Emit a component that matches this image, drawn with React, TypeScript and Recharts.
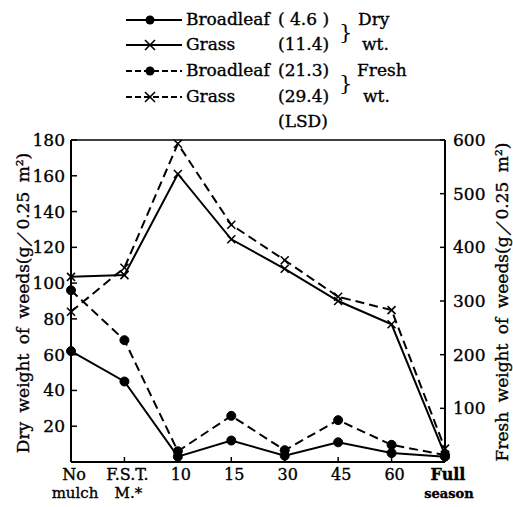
import { Legend, Line, LineChart, ReferenceLine, XAxis, YAxis } from "recharts";

const categories = ["No mulch", "F.S.T. M.*", "10", "15", "30", "45", "60", "Full season"];
const categoryLines = [
  ["No", "mulch"],
  ["F.S.T.", "M.*"],
  ["10", ""],
  ["15", ""],
  ["30", ""],
  ["45", ""],
  ["60", ""],
  ["Full", "season"],
];

// dry weight, g/0.25 m2 (left axis)
const dryBroadleaf = [62, 45, 3, 12, 3.5, 11, 5, 3];
const dryGrass = [103.5, 104.5, 161, 124.5, 108, 90, 77, 4];
// fresh weight, g/0.25 m2 (right axis)
const freshBroadleaf = [320, 227, 20, 86, 22, 78, 32, 13];
const freshGrass = [280, 362, 593, 442, 376, 308, 283, 25];

const legendNames = ["Broadleaf", "Grass", "Broadleaf", "Grass"];
const lsdValues = ["( 4.6 )", "(11.4)", "(21.3)", "(29.4)"];

const leftTicks = [20, 40, 60, 80, 100, 120, 140, 160, 180];
const rightTicks = [100, 200, 300, 400, 500, 600];

const data = categories.map((category, i) => ({
  category,
  dryBroadleaf: dryBroadleaf[i],
  dryGrass: dryGrass[i],
  freshBroadleaf: freshBroadleaf[i],
  freshGrass: freshGrass[i],
}));

const FONT = "DejaVu Serif, Liberation Serif, serif";
const DASH = "9 5";
// scanned print looks a bit heavy, thicken the glyphs slightly
const inkStyle = { stroke: "#000", strokeWidth: 0.35 };

function CrossMark({ cx, cy, size = 4 }: { cx?: number; cy?: number; size?: number }) {
  if (cx == null || cy == null) return null;
  return (
    <g>
      <line x1={cx - size} y1={cy - size} x2={cx + size} y2={cy + size} stroke="#000" strokeWidth={1.6} />
      <line x1={cx - size} y1={cy + size} x2={cx + size} y2={cy - size} stroke="#000" strokeWidth={1.6} />
    </g>
  );
}

function CategoryTick(props: any) {
  const { x, y, payload } = props;
  const idx = categories.indexOf(payload.value);
  const [top, bottom] = categoryLines[idx] ?? [payload.value, ""];
  const isLast = idx === categories.length - 1;
  return (
    <g>
      <text x={x + 3} y={y + 23} textAnchor="middle" fontSize={16} fontFamily={FONT} fontWeight={isLast ? "bold" : "normal"} fill="#000" {...inkStyle}>
        {top}
      </text>
      {bottom && (
        <text x={x + 4} y={y + 41} textAnchor="middle" fontSize={isLast ? 13 : 15} fontFamily={FONT} fontWeight={isLast ? "bold" : "normal"} fill="#000" {...inkStyle}>
          {bottom}
        </text>
      )}
    </g>
  );
}

function LegendBox() {
  const rows = [25, 50, 76, 102];
  return (
    <svg width={513} height={135} style={{ display: "block" }}>
      {legendNames.map((name, i) => {
        const y = rows[i] - 5;
        const dashed = i >= 2;
        const cross = i % 2 === 1;
        return (
          <g key={i}>
            <line x1={126} y1={y} x2={182} y2={y} stroke="#000" strokeWidth={1.8} strokeDasharray={dashed ? "6 3" : undefined} />
            {cross ? <CrossMark cx={150} cy={y} size={5} /> : <circle cx={150} cy={y} r={4.5} fill="#000" />}
            <text x={186} y={rows[i]} fontSize={17} fontFamily={FONT} fill="#000" {...inkStyle}>
              {name}
            </text>
            <text x={278} y={rows[i]} fontSize={17} fontFamily={FONT} fill="#000" {...inkStyle}>
              {lsdValues[i]}
            </text>
          </g>
        );
      })}
      <text x={278} y={127} fontSize={17} fontFamily={FONT} fill="#000" {...inkStyle}>(LSD)</text>
      <text x={339} y={39} fontSize={21} fontFamily={FONT} fill="#000">{"}"}</text>
      <text x={339} y={90} fontSize={21} fontFamily={FONT} fill="#000">{"}"}</text>
      <text x={358} y={25} fontSize={17} fontFamily={FONT} fill="#000" {...inkStyle}>Dry</text>
      <text x={362} y={50} fontSize={17} fontFamily={FONT} fill="#000" {...inkStyle}>wt.</text>
      <text x={357} y={76} fontSize={17} fontFamily={FONT} fill="#000" {...inkStyle}>Fresh</text>
      <text x={363} y={102} fontSize={17} fontFamily={FONT} fill="#000" {...inkStyle}>wt.</text>
    </svg>
  );
}

function AxisTitle({ x, y, text }: { x: number; y: number; text: string }) {
  return (
    <text
      x={x}
      y={y}
      transform={`rotate(-90 ${x} ${y})`}
      textAnchor="middle"
      dominantBaseline="central"
      fontSize={17}
      fontFamily={FONT}
      wordSpacing={4}
      fill="#000"
      {...inkStyle}
    >
      {text}
    </text>
  );
}

const tickStyle = { fontSize: 17, fill: "#000", fontFamily: FONT, ...inkStyle };

export default function App() {
  return (
    <div style={{ position: "absolute", left: 0, top: 0, background: "#fff" }}>
      <LineChart width={513} height={507} data={data} margin={{ top: 140, right: 18, left: 21, bottom: 5 }}>
        <XAxis
          dataKey="category"
          interval={0}
          height={40}
          tickSize={-5}
          tickMargin={0}
          tick={<CategoryTick />}
          tickLine={{ stroke: "#000", strokeWidth: 1.5 }}
          axisLine={{ stroke: "#000", strokeWidth: 2 }}
        />
        <YAxis
          yAxisId="dry"
          domain={[0, 180]}
          ticks={leftTicks}
          width={50}
          tickSize={-6}
          tickMargin={12}
          tick={tickStyle}
          tickLine={{ stroke: "#000", strokeWidth: 1.5 }}
          axisLine={{ stroke: "#000", strokeWidth: 2 }}
          label={{ content: () => <AxisTitle x={23} y={303} text="Dry weight of weeds(g／0.25 m²)" /> }}
        />
        <YAxis
          yAxisId="fresh"
          orientation="right"
          domain={[0, 600]}
          ticks={rightTicks}
          width={50}
          tickSize={-5}
          tickMargin={13}
          tick={tickStyle}
          tickLine={{ stroke: "#000", strokeWidth: 1.5 }}
          axisLine={{ stroke: "#000", strokeWidth: 2 }}
          label={{ content: () => <AxisTitle x={502} y={302} text="Fresh weight of weeds(g／0.25 m²)" /> }}
        />
        <ReferenceLine yAxisId="dry" y={180} stroke="#000" strokeWidth={1.5} />
        <Legend
          layout="vertical"
          align="center"
          verticalAlign="middle"
          content={() => <LegendBox />}
          wrapperStyle={{ position: "absolute", left: 0, top: 0, width: 513, height: 135 }}
        />
        <Line
          yAxisId="dry"
          dataKey="dryBroadleaf"
          type="linear"
          stroke="#000"
          strokeWidth={2}
          dot={{ r: 4.5, fill: "#000", stroke: "#000", strokeWidth: 1 }}
          isAnimationActive={false}
        />
        <Line
          yAxisId="dry"
          dataKey="dryGrass"
          type="linear"
          stroke="#000"
          strokeWidth={2}
          dot={(p: any) => <CrossMark key={`dg-${p.index}`} cx={p.cx} cy={p.cy} />}
          isAnimationActive={false}
        />
        <Line
          yAxisId="fresh"
          dataKey="freshBroadleaf"
          type="linear"
          stroke="#000"
          strokeWidth={2}
          strokeDasharray={DASH}
          dot={{ r: 4.5, fill: "#000", stroke: "#000", strokeWidth: 1, strokeDasharray: "0" }}
          isAnimationActive={false}
        />
        <Line
          yAxisId="fresh"
          dataKey="freshGrass"
          type="linear"
          stroke="#000"
          strokeWidth={2}
          strokeDasharray={DASH}
          dot={(p: any) => <CrossMark key={`fg-${p.index}`} cx={p.cx} cy={p.cy} />}
          isAnimationActive={false}
        />
      </LineChart>
    </div>
  );
}
